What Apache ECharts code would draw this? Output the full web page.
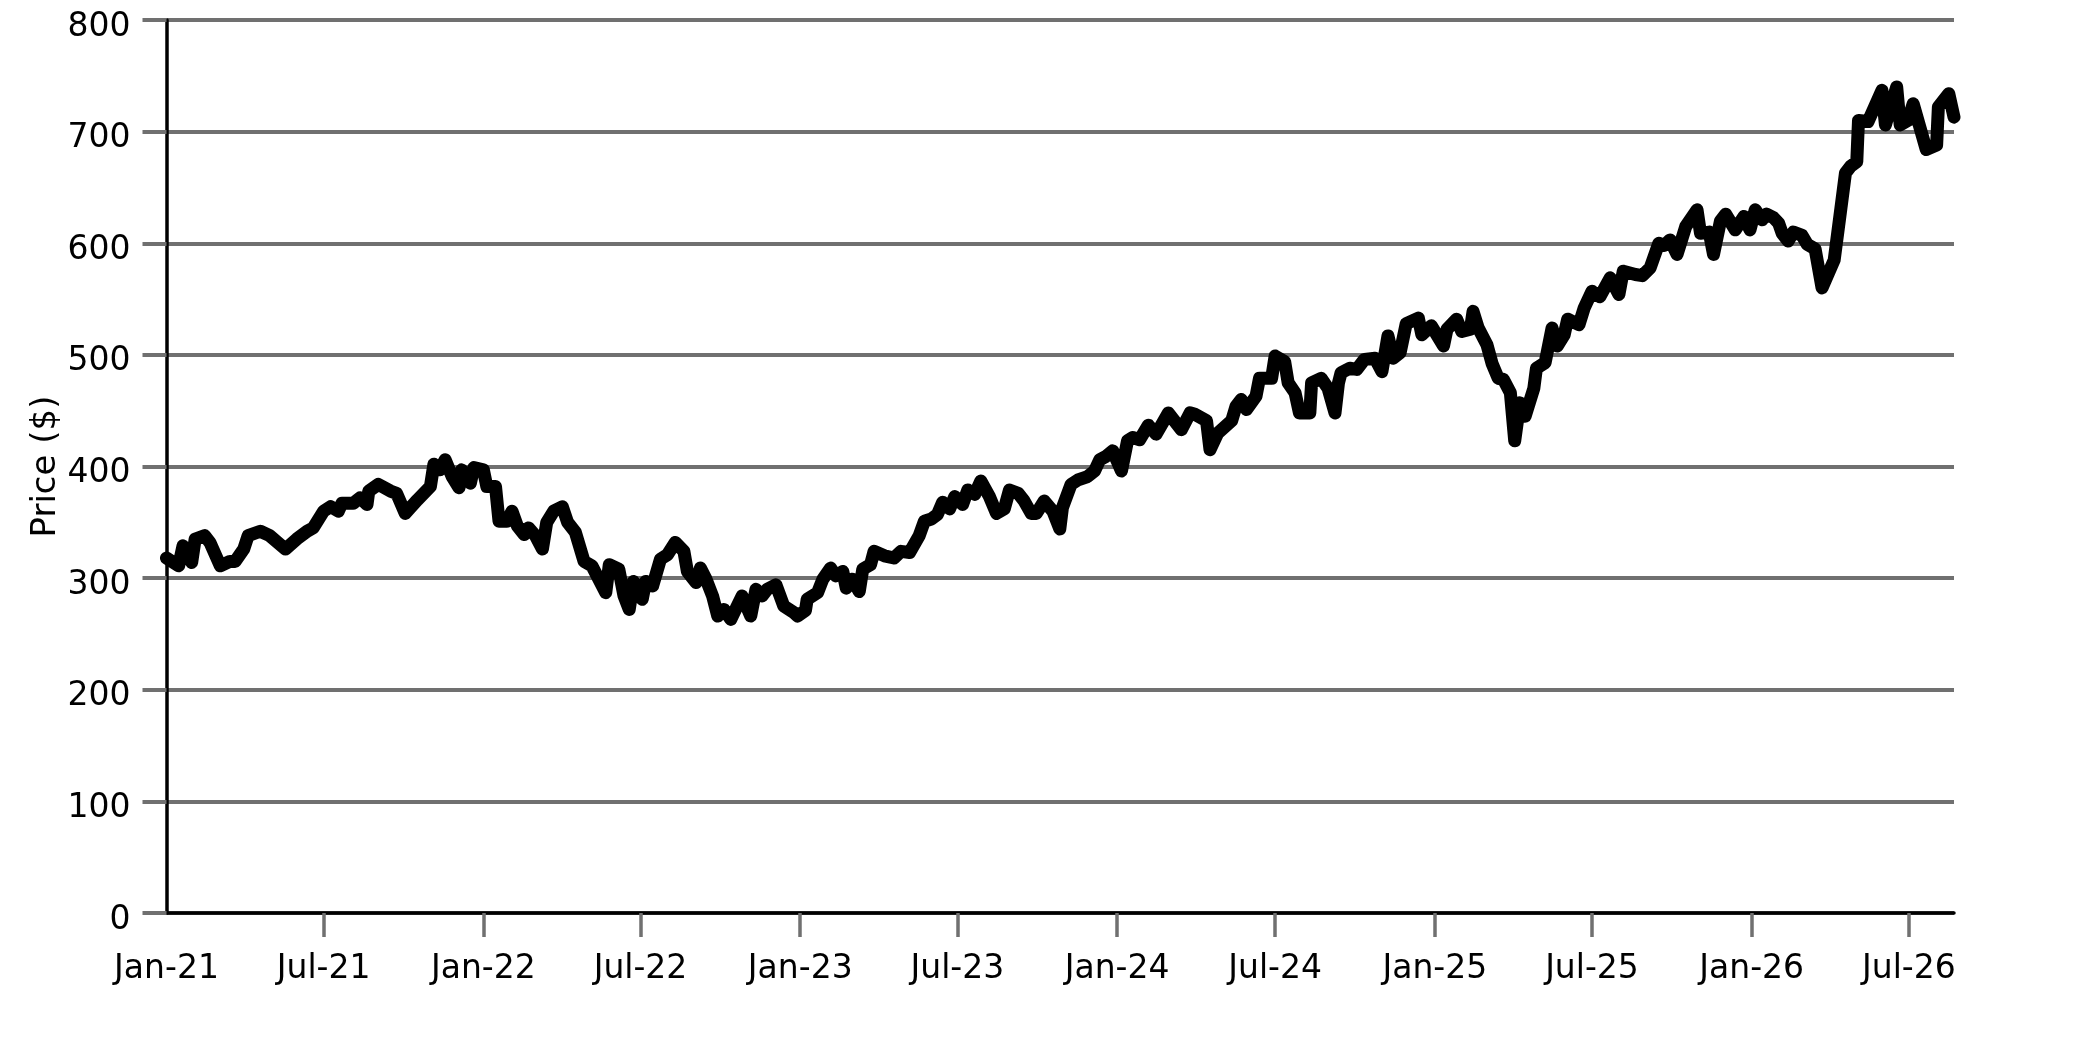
<!DOCTYPE html>
<html>
<head>
<meta charset="utf-8">
<script src="https://cdn.jsdelivr.net/npm/echarts@6/dist/echarts.min.js"></script>
<style>
html,body{margin:0;padding:0;background:#fff;}
#chart{width:2083px;height:1042px;}
</style>
</head>
<body>
<div id="chart"></div>
<script>
// Dates are day offsets from 2021-01-01
const startDate = Date.UTC(2021, 0, 1);
const dayOffsets = [
0,14,19,29,33,44,50,62,73,79,89,94,108,119,137,150,162,169,181,189,198,202,215,223,231,233,244,258,265,275,289,
304,308,315,321,329,337,340,350,354,365,369,379,383,392,398,404,412,417,425,433,438,446,456,462,471,481,490,506,510,521,527,533,538,548,552,560,569,577,586,
596,600,610,615,621,629,635,642,650,663,673,679,686,692,702,711,723,727,736,738,750,756,765,771,779,783,790,798,802,811,815,827,838,846,856,867,873,
881,888,894,902,908,917,923,931,938,948,956,965,971,981,988,996,1002,1011,1021,1029,1032,1042,1050,1061,1069,1075,1082,1090,1100,1107,1113,1121,1131,
1140,1154,1169,1179,1184,1198,1202,1211,1227,1232,1238,1244,1255,1259,1273,1277,1288,1292,1300,1305,1317,1319,1330,1338,1346,1350,1353,1363,1371,1380,1392,1400,1407,1413,1421,
1428,1442,1446,1457,1471,1475,1486,1492,1502,1505,1511,1521,1527,1534,1540,1548,1553,1559,1565,1575,1578,1588,1596,1602,1610,1614,1627,1633,1642,1651,1663,1673,1678,1692,1700,1709,
1719,1725,1732,1740,1750,1763,1767,1777,1782,1790,1796,1807,1817,1824,1830,1838,1843,1851,1857,1861,1868,1874,1884,1890,1899,1907,1921,1927,
1934,1940,1947,1949,1960,1976,1980,1993,1997,2006,2012,2027,2039,2041,2053,2059
];
const prices = [
318,311,329,314,335,338,332,311,315,315,326,338,342,338,326,335,342,345,360,364,360,367,367,372,366,378,384,378,376,358,370,
382,402,397,406,391,381,397,385,399,397,382,382,351,351,360,347,339,345,338,326,350,360,364,350,341,315,311,287,312,308,284,272,297,281,297,293,317,321,332,
324,306,296,309,300,284,266,272,263,284,266,290,284,290,294,275,269,266,271,281,287,299,309,302,306,291,299,288,308,312,324,320,318,324,323,338,351,
353,357,368,362,373,366,379,375,387,373,358,362,379,376,369,358,358,369,360,344,363,384,388,391,396,406,409,414,396,423,426,424,437,
429,448,433,448,447,441,415,430,441,454,460,451,463,479,479,499,494,475,466,448,448,475,479,470,448,475,484,488,487,496,497,485,517,497,502,
528,533,518,526,508,523,532,521,523,539,524,509,492,479,478,466,423,457,445,470,488,493,524,508,518,532,527,542,557,552,569,554,575,572,571,578,
600,598,603,590,615,630,609,610,590,620,626,612,624,612,630,621,626,623,618,609,602,610,607,599,595,560,585,621,
663,669,673,710,709,737,706,740,706,710,725,684,688,722,734,713
];
// x tick labels (half-year marks) and y ticks
const xTickLabels = ['Jan-21','Jul-21','Jan-22','Jul-22','Jan-23','Jul-23','Jan-24','Jul-24','Jan-25','Jul-25','Jan-26','Jul-26'];
const yTicks = [0,100,200,300,400,500,600,700,800];

const DAY = 86400000;
const seriesData = dayOffsets.map((d, i) => [d, prices[i]]);
const monthIdx = { Jan: 0, Jul: 6 };
const xTickDays = xTickLabels.map(s => {
  const [m, y] = s.split('-');
  return Math.round((Date.UTC(2000 + Number(y), monthIdx[m], 1) - startDate) / DAY);
});
const labelMap = {};
xTickDays.forEach((v, i) => { labelMap[v] = xTickLabels[i]; });

const chart = echarts.init(document.getElementById('chart'));
chart.setOption({
  animation: false,
  backgroundColor: '#ffffff',
  grid: { left: 166.5, right: 129, top: 20, bottom: 129, containLabel: false },
  xAxis: {
    type: 'value',
    min: 0,
    max: dayOffsets[dayOffsets.length - 1],
    axisLine: { show: true, lineStyle: { color: '#000', width: 3.5 } },
    axisTick: { show: true, length: 24, customValues: xTickDays.slice(1), lineStyle: { color: '#707070', width: 3.5 } },
    splitLine: { show: false },
    axisLabel: {
      color: '#000', fontSize: 33, fontFamily: 'DejaVu Sans', margin: 40,
      customValues: xTickDays,
      formatter: function (v) { return labelMap[v] !== undefined ? labelMap[v] : ''; }
    }
  },
  yAxis: {
    type: 'value',
    min: yTicks[0], max: yTicks[yTicks.length - 1], interval: 100,
    name: 'Price ($)', nameLocation: 'middle', nameRotate: 90, nameGap: 103,
    nameMoveOverlap: false,
    nameTextStyle: { color: '#000', fontSize: 34, fontFamily: 'DejaVu Sans' },
    axisLine: { show: true, lineStyle: { color: '#000', width: 3.5 } },
    axisTick: { show: true, length: 24, lineStyle: { color: '#707070', width: 4 } },
    splitLine: { show: true, lineStyle: { color: '#707070', width: 4 } },
    axisLabel: { color: '#000', fontSize: 33, fontFamily: 'DejaVu Sans', margin: 36, verticalAlign: 'top', lineHeight: 14 }
  },
  series: [{
    type: 'line',
    data: seriesData,
    showSymbol: false,
    symbol: 'none',
    lineStyle: { color: '#000', width: 13, join: 'round', cap: 'round' },
    z: 3
  }]
});
</script>
</body>
</html>
